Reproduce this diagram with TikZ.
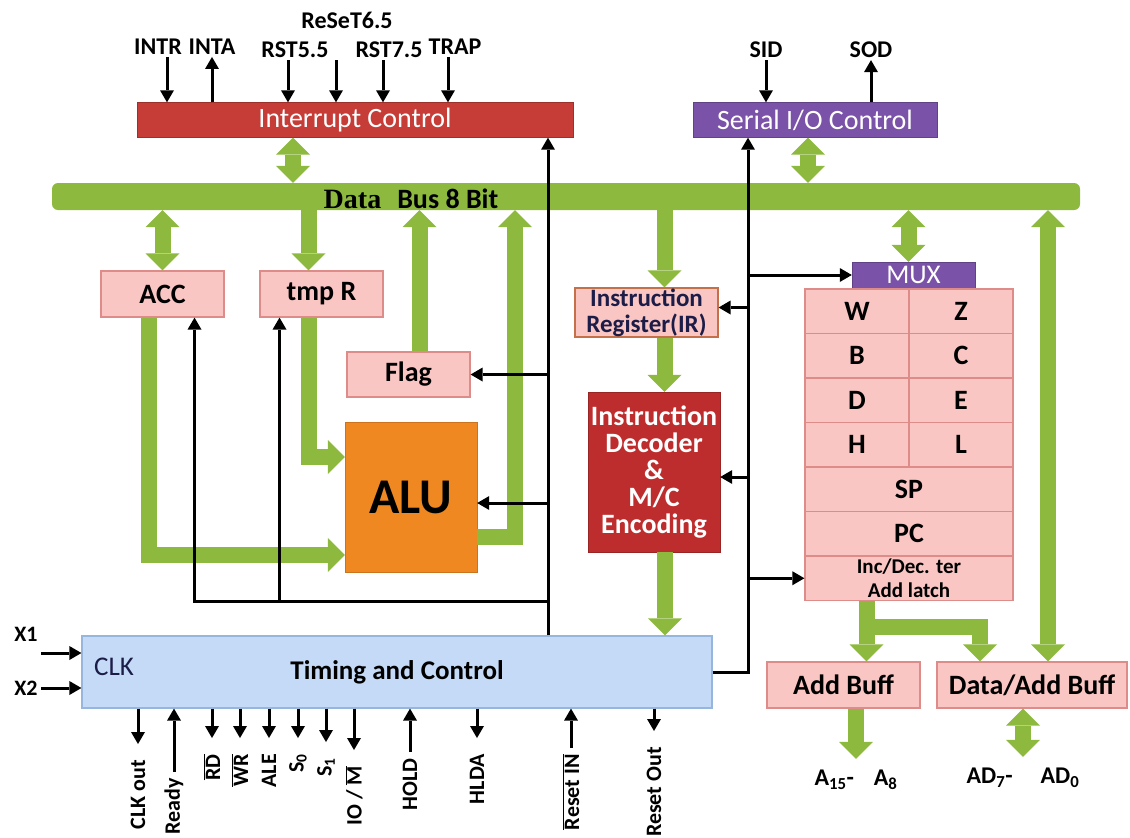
\documentclass[tikz,border=0pt]{standalone}
\usepackage{fontspec}
\setmainfont{Carlito}
\newfontfamily\datafont{Liberation Serif}
\usetikzlibrary{arrows.meta}

\definecolor{busgreen}{RGB}{141,186,62}
\definecolor{intred}{RGB}{198,60,54}
\definecolor{decred}{RGB}{190,45,45}
\definecolor{siopurple}{RGB}{122,82,168}
\definecolor{boxpink}{RGB}{250,198,196}
\definecolor{pinkedge}{RGB}{222,140,138}
\definecolor{aluorange}{RGB}{240,136,34}
\definecolor{tcblue}{RGB}{196,218,246}
\definecolor{tcedge}{RGB}{150,182,222}
\definecolor{navytext}{RGB}{28,28,72}
\definecolor{iredge}{RGB}{196,112,72}

\begin{document}
\begin{tikzpicture}[x=1pt,y=-1pt]
    \tikzstyle{pbox}=[draw=pinkedge,fill=boxpink,line width=1.2pt,inner sep=0pt,font=\fontsize{28}{28}\selectfont\bfseries]
    \tikzstyle{sig}=[inner sep=2pt,font=\fontsize{24}{24}\selectfont\bfseries]
    \tikzstyle{pin}=[rotate=90,anchor=east,inner sep=2pt,font=\fontsize{22}{22}\selectfont\bfseries]
    \tikzstyle{bline}=[line width=3pt,-{Triangle[length=12pt,width=14pt,line width=0pt]}]
    \tikzstyle{gline}=[line width=16pt,busgreen,-{Triangle[length=17pt,width=34pt,line width=0pt]}]
    \tikzstyle{gboth}=[gline,{Triangle[length=17pt,width=34pt,line width=0pt]}-{Triangle[length=17pt,width=34pt,line width=0pt]}]
    \useasboundingbox (0,0) rectangle (1130,838);

    % control blocks
    \node[fill=intred,draw=intred!80!black,minimum width=436pt,minimum height=35pt,text=white,font=\fontsize{28}{28}\selectfont] (intc) at (355,120) {Interrupt Control};
    \node[fill=siopurple,draw=siopurple!80!black,minimum width=244pt,minimum height=35pt,text=white,font=\fontsize{28}{28}\selectfont] (sioc) at (815,120) {Serial I/O Control};
    \node[fill=busgreen,rounded corners=6pt,minimum width=1028pt,minimum height=27pt] (bus) at (566,196.5) {};
    \node[font=\fontsize{28}{28}\selectfont\bfseries] (buslbl) at (411,199) {{\datafont Data}\hspace{16pt}Bus 8 Bit};

    \node[pbox,minimum width=123pt,minimum height=46pt] (acc) at (162.5,294) {ACC};
    \node[pbox,minimum width=123pt,minimum height=46pt] (tmpr) at (321.5,294) {tmp R};
    \node[pbox,minimum width=123pt,minimum height=45pt] (flag) at (408.5,374.5) {Flag};
    \node[fill=aluorange,draw=aluorange!85!black,minimum width=132pt,minimum height=150pt,font=\fontsize{50}{50}\selectfont\bfseries] (alu) at (411,497) {ALU};

    \node[pbox,draw=iredge,text=navytext,minimum width=143pt,minimum height=49pt,align=center,font=\fontsize{25}{26}\selectfont\bfseries] (ir) at (646.5,312.5) {Instruction\\Register(IR)};
    \node[fill=decred,draw=decred!80!black,text=white,minimum width=132pt,minimum height=160pt,inner sep=0pt,align=center,font=\fontsize{28}{27}\selectfont\bfseries] (dec) at (654,472) {Instruction\\Decoder\\\&\\M/C\\Encoding};

    % register array
    \node[fill=siopurple,draw=siopurple!80!black,text=white,minimum width=123pt,minimum height=26pt,inner sep=1pt,font=\fontsize{27}{27}\selectfont] (mux) at (913.5,275) {MUX};
    \foreach \lt/\rt/\y in {W/Z/311.25, B/C/355.75, D/E/400.25, H/L/444.75}
    {
        \node[pbox,minimum width=104pt,minimum height=44.5pt] (reg-\lt) at (857,\y) {\lt};
        \node[pbox,minimum width=104pt,minimum height=44.5pt] (reg-\rt) at (961,\y) {\rt};
    }
    \node[pbox,minimum width=208pt,minimum height=44.5pt] (sp) at (909,489.25) {SP};
    \node[pbox,minimum width=208pt,minimum height=44.5pt] (pc) at (909,533.75) {PC};
    \node[pbox,minimum width=208pt,minimum height=44.5pt,align=center,font=\fontsize{21}{24}\selectfont\bfseries] (incdec) at (909,578.25) {Inc/Dec. ter\\Add latch};

    \node[pbox,minimum width=153pt,minimum height=46pt] (addbuf) at (843.5,685) {Add Buff};
    \node[pbox,minimum width=190pt,minimum height=46pt] (dabuf) at (1032,685) {Data/Add Buff};
    \node[font=\fontsize{24}{24}\selectfont\bfseries] (a15) at (856,780) {A\textsubscript{15}-\hspace{20pt}A\textsubscript{8}};
    \node[font=\fontsize{24}{24}\selectfont\bfseries] (ad) at (1023,778) {AD\textsubscript{7}-\hspace{28pt}AD\textsubscript{0}};

    \node[fill=tcblue,draw=tcedge,line width=1.2pt,minimum width=630pt,minimum height=72pt,font=\fontsize{27}{27}\selectfont\bfseries] (timing) at (397,672) {Timing and Control};
    \node[text=navytext,font=\fontsize{27}{27}\selectfont] (clk) at (114,667) {CLK};

    % signal names
    \node[sig] (intr) at (158,47) {INTR};
    \node[sig] (inta) at (212,47) {INTA};
    \node[sig] (rst55) at (295,50) {RST5.5};
    \node[sig] (rst65) at (347,20) {ReSeT6.5};
    \node[sig] (rst75) at (389,50) {RST7.5};
    \node[sig] (trap) at (455,47) {TRAP};
    \node[sig] (sid) at (766,50) {SID};
    \node[sig] (sod) at (871,50) {SOD};
    \node[font=\fontsize{22}{22}\selectfont\bfseries] (x1) at (26,634) {X1};
    \node[font=\fontsize{22}{22}\selectfont\bfseries] (x2) at (26,688) {X2};

    \node[pin] (p-clkout) at (138,758) {CLK out};
    \node[pin] (p-ready) at (174,776) {Ready};
    \node[pin] (p-rd) at (212,752) {$\overline{\hbox{RD}}$};
    \node[pin] (p-wr) at (240,752) {$\overline{\hbox{WR}}$};
    \node[pin] (p-ale) at (269,752) {ALE};
    \node[pin] (p-s0) at (298,752) {S\textsubscript{0}};
    \node[pin] (p-s1) at (326,756) {S\textsubscript{1}};
    \node[pin] (p-iom) at (354,764) {IO / $\overline{\hbox{M}}$};
    \node[pin] (p-hold) at (410,756) {HOLD};
    \node[pin] (p-hlda) at (477,752) {HLDA};
    \node[pin] (p-rstin) at (571,752) {$\overline{\hbox{Reset IN}}$};
    \node[pin] (p-rstout) at (654,745) {Reset Out};

    % green buses
    \draw[gboth] ([xshift=-62pt]intc.south) -- ([xshift=-62pt]intc.south |- bus.north);
    \draw[gboth] ([xshift=-7pt]sioc.south) -- ([xshift=-7pt]sioc.south |- bus.north);
    \draw[gboth] (acc.north) -- (acc.north |- bus.south);
    \draw[gline] ([xshift=-13pt]tmpr.north |- bus.south) -- ([xshift=-13pt]tmpr.north);
    \draw[gline] ([xshift=11pt]flag.north) -- ([xshift=11pt]flag.north |- bus.south);
    \draw[gline] ([yshift=-40pt]alu.east) -| (bus.south -| 515,0);
    \draw[gline] ([xshift=-14pt]acc.south) |- ([yshift=-58pt]alu.west);
    \draw[gline] ([xshift=-13pt]tmpr.south) |- ([yshift=40pt]alu.west);
    \draw[gline] ([xshift=18pt]ir.north |- bus.south) -- ([xshift=18pt]ir.north);
    \draw[gline] ([xshift=18pt]ir.south) -- ([xshift=18pt]ir.south |- dec.north);
    \draw[gline] ([xshift=11pt]dec.south) -- ([xshift=11pt]dec.south |- timing.north);
    \draw[gboth] ([xshift=-5pt]mux.north) -- ([xshift=-5pt]mux.north |- bus.south);
    \draw[gline] ([xshift=23pt]addbuf.north |- incdec.south) -- ([xshift=23pt]addbuf.north);
    \draw[gline] ([xshift=23pt]addbuf.north |- 0,627) -| ([xshift=-52pt]dabuf.north);
    \draw[gboth] ([xshift=16pt]dabuf.north) -- ([xshift=16pt]dabuf.north |- bus.south);
    \draw[gline,shorten >=8pt] (addbuf.south -| a15.north) -- (a15.north);
    \draw[gboth,shorten >=8pt] (dabuf.south -| ad.north) -- (ad.north);

    % control lines
    \coordinate (cl) at ([xshift=151pt]timing.north);
    \coordinate (ret) at (cl |- 0,601);
    \draw[bline] (cl) -- (cl |- intc.south);
    \draw[bline] (cl |- flag.east) -- (flag.east);
    \draw[bline] ([yshift=-6pt]alu.east -| cl) -- ([yshift=-6pt]alu.east);
    \draw[bline] (ret) -| ([xshift=32pt]acc.south);
    \draw[bline] ([xshift=-42pt]tmpr.south |- ret) -- ([xshift=-42pt]tmpr.south);

    \coordinate (cr) at ([xshift=-67pt]sioc.south);
    \draw[bline] (timing.east) -| (cr);
    \draw[bline] (mux.west -| cr) -- (mux.west);
    \draw[bline] ([yshift=5pt]ir.east -| cr) -- ([yshift=5pt]ir.east);
    \draw[bline] ([yshift=-5pt]dec.east -| cr) -- ([yshift=-5pt]dec.east);
    \draw[bline] (incdec.west -| cr) -- (incdec.west);

    % pins
    \draw[bline] ([xshift=9pt]intr.south) -- ([xshift=9pt]intr.south |- intc.north);
    \draw[bline] (inta.south |- intc.north) -- (inta.south);
    \draw[bline] ([xshift=-7pt]rst55.south) -- ([xshift=-7pt]rst55.south |- intc.north);
    \draw[bline] ([xshift=-11pt]rst65.south |- rst55.south) -- ([xshift=-11pt]rst65.south |- intc.north);
    \draw[bline] ([xshift=-6pt]rst75.south) -- ([xshift=-6pt]rst75.south |- intc.north);
    \draw[bline] ([xshift=-7pt]trap.south) -- ([xshift=-7pt]trap.south |- intc.north);
    \draw[bline] (sid.south) -- (sid.south |- sioc.north);
    \draw[bline] (sod.south |- sioc.north) -- (sod.south);
    \draw[bline] ([yshift=-19pt]x1.east) -- ([yshift=-19pt]x1.east -| timing.west);
    \draw[bline] (x2.east) -- (x2.east -| timing.west);

    \foreach \p in {clkout,rd,wr,ale,s0,s1,iom,hlda,rstout}
        \draw[bline,shorten >=14pt] (timing.south -| p-\p.east) -- (p-\p.east);
    \foreach \p in {ready,hold,rstin}
        \draw[bline,shorten <=4pt] (p-\p.east) -- (timing.south -| p-\p.east);
\end{tikzpicture}
\end{document}
